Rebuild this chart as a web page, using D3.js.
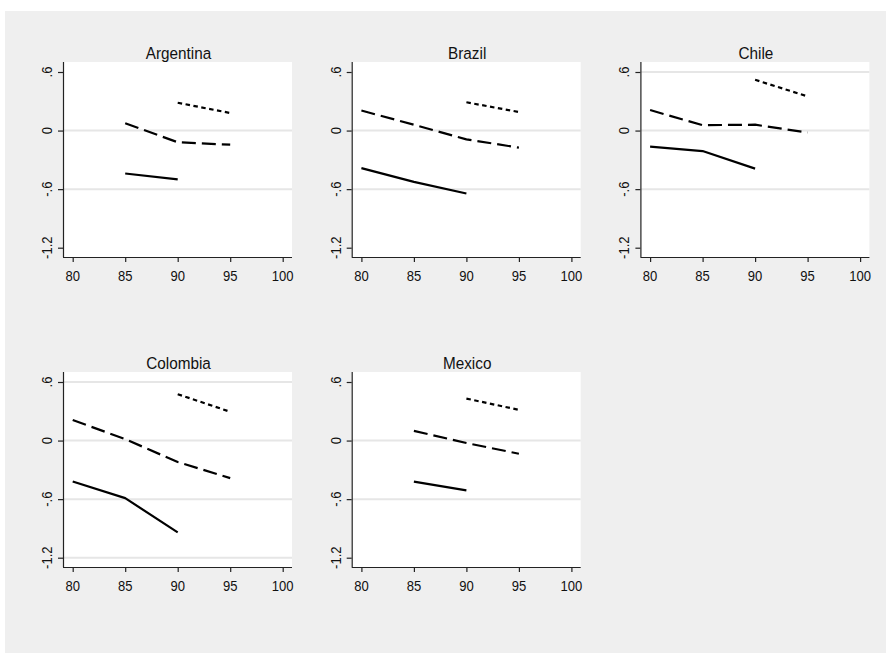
<!DOCTYPE html>
<html>
<head>
<meta charset="utf-8">
<script src="https://cdn.jsdelivr.net/npm/d3@7"></script>
<style>
  html, body { margin: 0; padding: 0; background: #ffffff; }
  svg { display: block; }
  text { font-family: "Liberation Sans", Arial, sans-serif; fill: #111; }
</style>
</head>
<body>
<script>
// Survey years on the x axis and the panels (one per country)
const years = [80, 85, 90, 95];
const countries = ["Argentina", "Brazil", "Chile", "Colombia", "Mexico"];

// Three cohorts per country; null = not observed in that year
const solidValues = [
  [null, -0.44, -0.50, null],
  [-0.385, -0.525, -0.645, null],
  [-0.165, -0.21, -0.39, null],
  [-0.42, -0.59, -0.94, null],
  [null, -0.42, -0.51, null]
];
const longDashValues = [
  [null, 0.075, -0.12, -0.145],
  [0.205, 0.06, -0.09, -0.175],
  [0.21, 0.055, 0.06, -0.02],
  [0.21, 0.015, -0.22, -0.385],
  [null, 0.10, -0.025, -0.135]
];
const shortDashValues = [
  [null, null, 0.285, 0.18],
  [null, null, 0.29, 0.19],
  [null, null, 0.52, 0.35],
  [null, null, 0.475, 0.295],
  [null, null, 0.43, 0.315]
];

// Axis ticks and the grid lines drawn in each panel
const xTicks = [80, 85, 90, 95, 100];
const yTicks = [0.6, 0, -0.6, -1.2];
const yTickLabels = [".6", "0", "-.6", "-1.2"];
const gridLines = [
  [0, -0.6],
  [0, -0.6],
  [0.6, 0, -0.6],
  [0.6, 0, -0.6, -1.2],
  [0, -0.6]
];

const W = 886, H = 653;
const svg = d3.select("body").append("svg").attr("width", W).attr("height", H);

svg.append("rect").attr("x", 5).attr("y", 11).attr("width", W - 5).attr("height", H - 11)
  .attr("fill", "#efefef");

const plotW = 229, plotH = 195;
const colX = i => 63 + i * 288.7;
const rowY = r => 62 + r * 310;

const seriesStyles = [
  { values: solidValues, dash: null },
  { values: longDashValues, dash: "14,6" },
  { values: shortDashValues, dash: "4.5,3.5" }
];

countries.forEach((name, ci) => {
  const col = ci % 3, row = Math.floor(ci / 3);
  const x0 = colX(col), y0 = rowY(row);
  const g = svg.append("g").attr("transform", `translate(${x0},${y0})`);

  const x = d3.scaleLinear().domain([80, 100]).range([9.7, 219.7]);
  const y = d3.scaleLinear().domain([-1.2, 0.6]).range([185.7, 10]);

  g.append("rect").attr("width", plotW).attr("height", plotH).attr("fill", "#ffffff");

  g.selectAll("line.grid").data(gridLines[ci]).enter().append("line")
    .attr("class", "grid")
    .attr("x1", 0).attr("x2", plotW)
    .attr("y1", d => y(d)).attr("y2", d => y(d))
    .attr("stroke", "#e6e6e6").attr("stroke-width", 2);

  // Title
  g.append("text")
    .attr("transform", `translate(${plotW / 2 + 1},-3.5) scale(0.9,1)`)
    .attr("text-anchor", "middle")
    .style("font-size", "17px")
    .text(name);

  // Series lines
  seriesStyles.forEach(s => {
    const pts = years.map((yr, k) => ({ yr, v: s.values[ci][k] }));
    const line = d3.line().defined(d => d.v !== null)
      .x(d => x(d.yr)).y(d => y(d.v));
    g.append("path").datum(pts)
      .attr("d", line)
      .attr("fill", "none")
      .attr("stroke", "#000")
      .attr("stroke-width", 2.2)
      .attr("stroke-linejoin", "round")
      .attr("stroke-dasharray", s.dash);
  });

  // Axes
  const xAxis = d3.axisBottom(x).tickValues(xTicks).tickSize(5).tickFormat("");
  const gx = g.append("g").attr("transform", `translate(0,${plotH})`).call(xAxis);
  gx.select(".domain").attr("d", `M0,0.5H${plotW}`);
  const yAxis = d3.axisLeft(y).tickValues(yTicks).tickSize(5).tickFormat("");
  const gy = g.append("g").call(yAxis);
  gy.select(".domain").attr("d", `M0.5,0V${plotH}`);
  [gx, gy].forEach(a => {
    a.selectAll("path, line").attr("stroke", "#222").attr("stroke-width", 1.2);
  });

  g.selectAll("text.xt").data(xTicks).enter().append("text")
    .attr("class", "xt")
    .attr("transform", d => `translate(${x(d)},${plotH + 23.5}) scale(0.87,1)`)
    .attr("text-anchor", "middle")
    .style("font-size", "15px")
    .text(d => d);

  g.selectAll("text.yt").data(yTicks).enter().append("text")
    .attr("class", "yt")
    .attr("transform", (d, k) => `translate(-11,${y(d)}) rotate(-90) scale(0.87,1)`)
    .attr("text-anchor", "middle")
    .style("font-size", "15px")
    .text((d, k) => yTickLabels[k]);
});
</script>
</body>
</html>
